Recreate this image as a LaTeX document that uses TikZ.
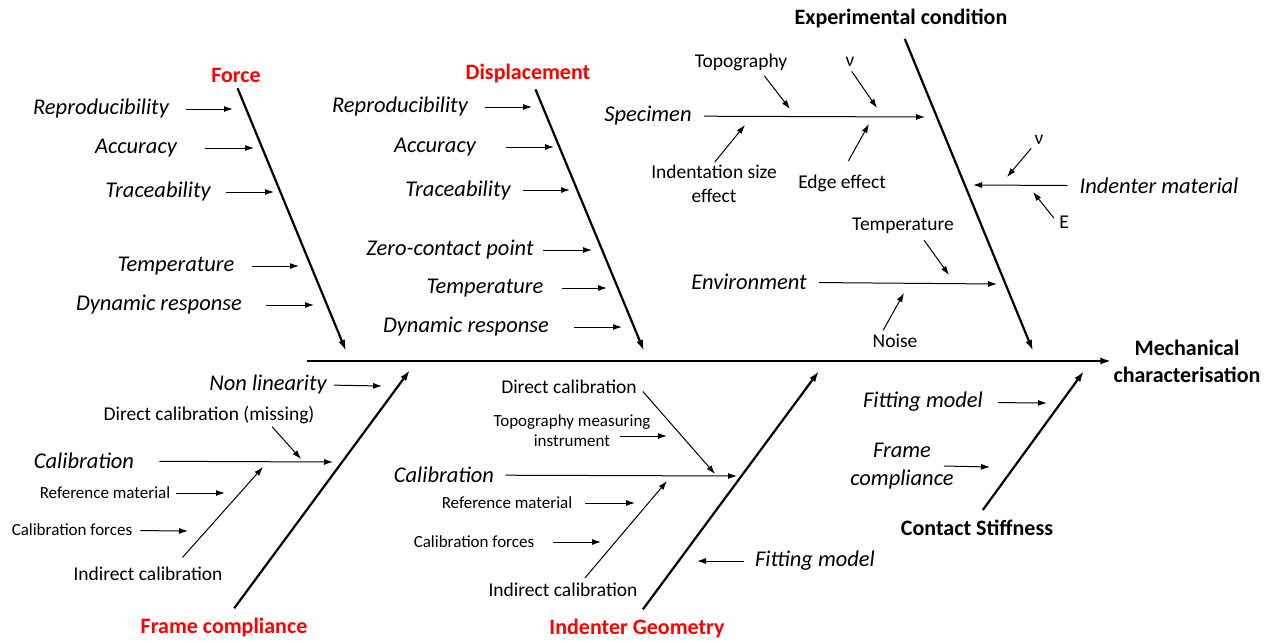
\documentclass[tikz,border=0pt]{standalone}
\usepackage{fontspec}
\setmainfont{Carlito}
\usepackage{tikz}
\usetikzlibrary{arrows.meta}
\tikzstyle{head} = [font=\fontsize{22}{26}\selectfont\bfseries, text=red, inner sep=2pt]
\tikzstyle{effect} = [font=\fontsize{22}{27}\selectfont\bfseries, align=center, inner sep=2pt]
\tikzstyle{cause} = [font=\fontsize{22.5}{28}\selectfont\itshape, align=center, inner sep=2pt]
\tikzstyle{factor} = [font=\fontsize{19.5}{24}\selectfont, align=center, inner sep=2pt]
\tikzstyle{minor} = [font=\fontsize{17}{20}\selectfont, align=center, inner sep=2pt]
\tikzstyle{bone} = [line width=2.2pt, -{Latex[length=11pt,width=7pt]}]
\tikzstyle{arrow} = [line width=1pt, -{Latex[length=9pt,width=6pt]}]

\begin{document}
\begin{tikzpicture}[x=1pt, y=-1pt]
    \useasboundingbox (0,0) rectangle (1274,642);

    % spine
    \coordinate (spine) at (307,361);
    \node (mech) [effect] at (1187,361) {Mechanical\\characterisation};
    \draw [bone] (spine) -- (mech.west);

    % Force
    \node (force) [head] at (236,75) {Force};
    \coordinate (forceEnd) at (346,351);
    \draw [bone, shorten <=4pt] (force.south) -- (forceEnd);
    \node (fRep) [cause] at (101,109) {Reproducibility};
    \node (fAcc) [cause] at (136,148) {Accuracy};
    \node (fTra) [cause] at (158,192) {Traceability};
    \node (fTmp) [cause] at (176,266) {Temperature};
    \node (fDyn) [cause] at (159,305) {Dynamic response};
    \coordinate (fRepT) at (233,109);
    \coordinate (fAccT) at (254,148);
    \coordinate (fTraT) at (274,192);
    \coordinate (fTmpT) at (299,266);
    \coordinate (fDynT) at (314,305);
    \draw [arrow, shorten <=15pt] (fRep) -- (fRepT);
    \draw [arrow, shorten <=26pt] (fAcc) -- (fAccT);
    \draw [arrow, shorten <=13pt] (fTra) -- (fTraT);
    \draw [arrow, shorten <=15pt] (fTmp) -- (fTmpT);
    \draw [arrow, shorten <=22pt] (fDyn) -- (fDynT);

    % Displacement
    \node (disp) [head] at (528,74) {Displacement};
    \coordinate (dispEnd) at (644,351);
    \draw [bone, shorten <=4pt] (disp.-63) -- (dispEnd);
    \node (dRep) [cause] at (400,107) {Reproducibility};
    \node (dAcc) [cause] at (435,147) {Accuracy};
    \node (dTra) [cause] at (458,190) {Traceability};
    \node (dZer) [cause] at (450,250) {Zero-contact point};
    \node (dTmp) [cause] at (485,288) {Temperature};
    \node (dDyn) [cause] at (466,327) {Dynamic response};
    \coordinate (dRepT) at (532,107);
    \coordinate (dAccT) at (554,147);
    \coordinate (dTraT) at (570,190);
    \coordinate (dZerT) at (592,250);
    \coordinate (dTmpT) at (607,288);
    \coordinate (dDynT) at (622,327);
    \draw [arrow, shorten <=15pt] (dRep) -- (dRepT);
    \draw [arrow, shorten <=28pt] (dAcc) -- (dAccT);
    \draw [arrow, shorten <=10pt] (dTra) -- (dTraT);
    \draw [arrow, shorten <=7pt] (dZer) -- (dZerT);
    \draw [arrow, shorten <=16pt] (dTmp) -- (dTmpT);
    \draw [arrow, shorten <=23pt] (dDyn) -- (dDynT);

    % Experimental condition
    \node (expc) [effect] at (901,18) {Experimental condition};
    \coordinate (expcEnd) at (1033,351);
    \draw [bone, shorten <=10pt] (expc.south) -- (expcEnd);
    % specimen
    \node (spec) [cause] at (648,116) {Specimen};
    \coordinate (specT) at (925,117);
    \draw [arrow, shorten <=10pt] (spec) -- (specT);
    \node (topo) [factor] at (741,62) {Topography};
    \node (nuS) [factor] at (850,62) {ν};
    \node (ise) [factor] at (714,184) {Indentation size\\effect};
    \node (edge) [factor] at (842,183) {Edge effect};
    \coordinate (topoT) at (790,109);
    \coordinate (nuST) at (877,108);
    \coordinate (iseT) at (745,125);
    \coordinate (edgeT) at (869,124);
    \draw [arrow, shorten <=4pt] (topo.-27) -- (topoT);
    \draw [arrow, shorten <=3pt] (nuS.south) -- (nuST);
    \draw [arrow, shorten <=1pt] (ise.north) -- (iseT);
    \draw [arrow, shorten <=13pt] (edge.north) -- (edgeT);
    % indenter material
    \node (indm) [cause] at (1159,186) {Indenter material};
    \coordinate (indmT) at (973,185);
    \draw [arrow, shorten <=10pt] (indm) -- (indmT);
    \node (nuI) [factor] at (1039,140) {ν};
    \node (modE) [factor] at (1064,222) {E};
    \coordinate (nuIT) at (1007,177);
    \coordinate (modET) at (1033,192);
    \draw [arrow, shorten <=2pt] (nuI.south west) -- (nuIT);
    \draw [arrow, shorten <=5pt] (modE.west) -- (modET);
    % environment
    \node (env) [cause] at (749,282) {Environment};
    \coordinate (envT) at (997,284);
    \draw [arrow, shorten <=10pt] (env) -- (envT);
    \node (envTmp) [factor] at (903,226) {Temperature};
    \node (noise) [factor] at (895,341) {Noise};
    \coordinate (envTmpT) at (949,275);
    \coordinate (noiseT) at (904,293);
    \draw [arrow, shorten <=5pt] (envTmp.-29) -- (envTmpT);
    \draw [arrow, shorten <=2pt] (noise.145) -- (noiseT);

    % Frame compliance
    \node (fcomp) [head] at (224,628) {Frame compliance};
    \coordinate (fcompEnd) at (410,370);
    \draw [bone, shorten <=10pt] (fcomp.70) -- (fcompEnd);
    \node (nonlin) [cause] at (268,384) {Non linearity};
    \node (dcF) [factor] at (209,415) {Direct calibration (missing)};
    \node (calF) [cause] at (84,461) {Calibration};
    \node (refF) [minor] at (105,493) {Reference material};
    \node (cfF) [minor] at (72,530) {Calibration forces};
    \node (icF) [factor] at (148,574) {Indirect calibration};
    \coordinate (nonlinT) at (382,386);
    \coordinate (dcFT) at (301,459);
    \coordinate (calFT) at (333,462);
    \coordinate (refFT) at (225,493);
    \coordinate (cfFT) at (188,531);
    \coordinate (icFT) at (263,467);
    \draw [arrow, shorten <=5pt] (nonlin) -- (nonlinT);
    \draw [arrow, shorten <=1pt] (dcF.-10) -- (dcFT);
    \draw [arrow, shorten <=23pt] (calF) -- (calFT);
    \draw [arrow, shorten <=4pt] (refF) -- (refFT);
    \draw [arrow, shorten <=6pt] (cfF) -- (cfFT);
    \draw [arrow, shorten <=10pt] (icF.18) -- (icFT);

    % Indenter Geometry
    \node (igeo) [head] at (637,629) {Indenter Geometry};
    \coordinate (igeoEnd) at (819,371);
    \draw [bone, shorten <=10pt] (igeo.north) -- (igeoEnd);
    \node (dcG) [factor] at (569,387) {Direct calibration};
    \node (tmi) [minor] at (572,431) {Topography measuring\\instrument};
    \node (calG) [cause] at (444,475) {Calibration};
    \node (refG) [minor] at (507,503) {Reference material};
    \node (cfG) [minor] at (474,542) {Calibration forces};
    \node (icG) [factor] at (563,590) {Indirect calibration};
    \node (fitG) [cause] at (815,561) {Fitting model};
    \coordinate (dcGT) at (715,474);
    \coordinate (tmiT) at (667,436);
    \coordinate (calGT) at (737,476);
    \coordinate (refGT) at (635,503);
    \coordinate (cfGT) at (601,542);
    \coordinate (icGT) at (667,481);
    \coordinate (fitGT) at (697,561);
    \draw [arrow, shorten <=6pt] (dcG.east) -- (dcGT);
    \draw [arrow] ([xshift=-33pt,yshift=-5pt]tmi.east) -- (tmiT);
    \draw [arrow, shorten <=9pt] (calG) -- (calGT);
    \draw [arrow, shorten <=11pt] (refG) -- (refGT);
    \draw [arrow, shorten <=17pt] (cfG) -- (cfGT);
    \draw [arrow, shorten <=4pt] (icG.25) -- (icGT);
    \draw [arrow, shorten <=9pt] (fitG) -- (fitGT);

    % Contact Stiffness
    \node (cstiff) [effect] at (977,528) {Contact Stiffness};
    \coordinate (cstiffEnd) at (1084,371);
    \draw [bone, shorten <=10pt] (cstiff.north) -- (cstiffEnd);
    \node (fitC) [cause] at (923,402) {Fitting model};
    \node (fcC) [cause] at (902,466) {Frame\\compliance};
    \coordinate (fitCT) at (1047,403);
    \coordinate (fcCT) at (990,467);
    \draw [arrow, shorten <=13pt] (fitC) -- (fitCT);
    \draw [arrow] ([xshift=-12pt]fcC.east) -- (fcCT);
\end{tikzpicture}
\end{document}
